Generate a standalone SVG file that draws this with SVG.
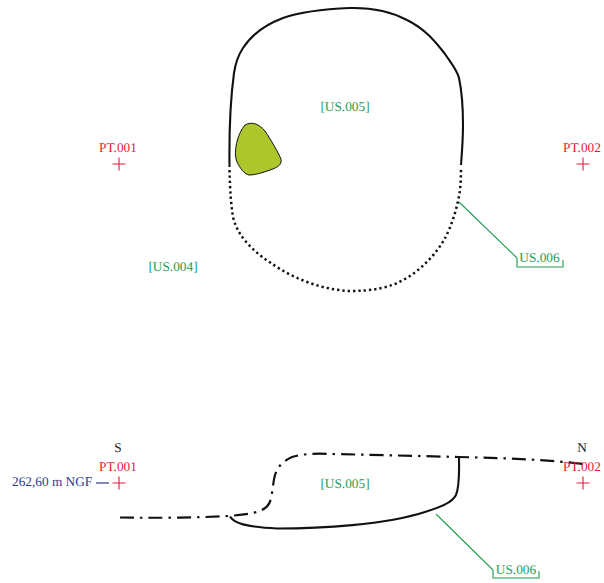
<svg xmlns="http://www.w3.org/2000/svg" width="604" height="583" viewBox="0 0 604 583">
<style>
text{font-family:"Liberation Serif","Times New Roman",serif;font-size:13.300px;text-rendering:geometricPrecision}
.g{fill:#1c9c50}.r{fill:#e8163c}.k{fill:#222}.b{fill:#2b3a8f}
.cross{stroke:#e8163c;stroke-width:1.100;fill:none}
.lead{stroke:#1c9c50;stroke-width:1.100;fill:none}
.solid{stroke:#111;stroke-width:2.100;fill:none}
.dot{stroke:#111;stroke-width:2.500;fill:none;stroke-dasharray:2.300 3}
.dd{stroke:#111;stroke-width:2.200;fill:none;stroke-dasharray:14 6 2.500 6}
</style>
<rect width="604" height="583" fill="#fff"/>
<g id="connectors">
<path class="solid" d="M229.500 167C229 130 231 95 234 73C236 60 239 54 243 48C250 37 262 26 283 18C300 12 325 9 350 8C370 7.500 390 11 407 20C425 29 435 41 445 54C451 63 457 70 459 78C462 92 463 110 463 125C463 140 462 152 461 165"/>
<path class="dot" d="M229.500 170C230 190 231 205 233 217C236 229 241 236 248 244C256 253 266 260 280 269C300 281 325 290 350 291C372 291 390 288 405 279C422 269 435 255 444 240C452 226 458 205 460 190C461 180 461 172 461 167"/>
<path class="lead" d="M459 202L517 258V267H563V260"/>
<path class="dd" d="M120 517.500C150 518 195 518 228 516C240 515 252 514 260 511C267 508 270 504 271 498C273 490 273 482 275 475C278 466 283 461 292 457C305 453 320 453.500 333 454C380 455 420 456 458 457C500 458 540 459 583 464"/>
<path class="solid" d="M230 516.500C234 523 245 527 277 528.500C320 528.500 385 525 425 512C440 507 452 503 456 495C460 485 459 470 459 457"/>
<path class="lead" d="M436 514L493 570V578H539V571"/>
<path d="M96 483H109" stroke="#2b3a8f" stroke-width="1.200" fill="none"/>
</g>
<g id="feature"><path d="M245 125C252 121 259 124 265 131C271 140 278 152 281 159C282 164 279 167 270 170C262 173 254 175 249 175C244 174 240 168 237 162C233 153 237 134 245 125Z" fill="#adc62b" stroke="#111" stroke-width="1"/></g>
<g id="pt001-plan"><text class="r" x="118" y="152" text-anchor="middle">PT.001</text><path class="cross" d="M112.500 164H125.500M119 157.500V170.500"/></g>
<g id="pt002-plan"><text class="r" x="582" y="152" text-anchor="middle">PT.002</text><path class="cross" d="M576.500 164H589.500M583 157.500V170.500"/></g>
<g id="us005-plan"><text class="g" x="345" y="111" text-anchor="middle">[US.005]</text></g>
<g id="us004-plan"><text class="g" x="173" y="271" text-anchor="middle">[US.004]</text></g>
<g id="us006-plan"><text class="g" x="539.500" y="262" text-anchor="middle">US.006</text></g>
<g id="south"><text class="k" x="118" y="452" text-anchor="middle">S</text><text class="r" x="118" y="471" text-anchor="middle">PT.001</text><text class="b" x="12" y="486">262,60 m NGF</text><path class="cross" d="M112.500 483H125.500M119 476.500V489.500"/></g>
<g id="north"><text class="k" x="582" y="452" text-anchor="middle">N</text><text class="r" x="582" y="471" text-anchor="middle">PT.002</text><path class="cross" d="M576.500 483H589.500M583 476.500V489.500"/></g>
<g id="us005-section"><text class="g" x="345" y="488" text-anchor="middle">[US.005]</text></g>
<g id="us006-section"><text class="g" x="516" y="574" text-anchor="middle">US.006</text></g>
</svg>
